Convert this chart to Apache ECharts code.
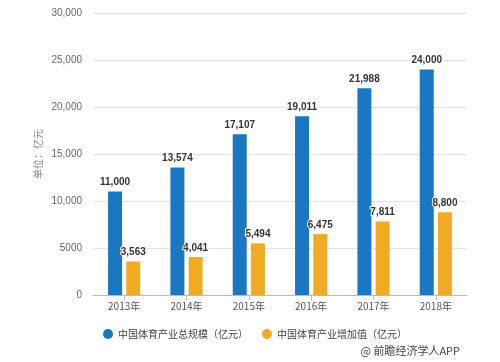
<!DOCTYPE html>
<html><head><meta charset="utf-8">
<script src="https://cdn.jsdelivr.net/npm/echarts@6/dist/echarts.min.js"></script>
<style>html,body{margin:0;padding:0;background:#fff}#c{width:500px;height:362px}</style>
</head><body><div id="c"></div>
<script>
const categories = ['2013年','2014年','2015年','2016年','2017年','2018年'];
const totalScale = [11000, 13574, 17107, 19011, 21988, 24000];
const addedValue = [3563, 4041, 5494, 6475, 7811, 8800];
const seriesNames = ['中国体育产业总规模（亿元）','中国体育产业增加值（亿元）'];
const yTicks = [0, 5000, 10000, 15000, 20000, 25000, 30000];

const fmt = v => v >= 10000 ? v.toLocaleString('en-US') : String(v);
const chart = echarts.init(document.getElementById('c'));
const labelStyle = {show: true, position: 'top', fontWeight: 'bold', fontSize: 10, color: '#333',
  fontFamily: 'Liberation Sans', distance: 4, formatter: p => p.value.toLocaleString('en-US'),
  textBorderColor: '#fff', textBorderWidth: 2};
chart.setOption({
  animation: false,
  grid: {left: 93, right: 33, top: 13, bottom: 67},
  legend: {top: 324, left: 98, itemWidth: 10, itemHeight: 10, itemGap: 14, icon: 'circle',
    textStyle: {fontSize: 10, color: '#444', fontFamily: 'Noto Sans CJK SC'}, data: seriesNames},
  xAxis: {type: 'category', data: categories,
    axisLine: {lineStyle: {color: '#bbb'}}, axisTick: {show: true, alignWithLabel: true, lineStyle: {color: '#bbb'}},
    axisLabel: {color: '#555', fontSize: 10, margin: 6, fontFamily: 'Noto Sans CJK SC'}},
  yAxis: {type: 'value', min: yTicks[0], max: yTicks[yTicks.length-1], interval: 5000,
    name: '单位：亿元', nameLocation: 'middle', nameGap: 50, nameRotate: 90, nameMoveOverlap: false,
    nameTextStyle: {color: '#888', fontSize: 10, fontFamily: 'Noto Sans CJK SC'},
    axisLine: {show: false}, axisTick: {show: false},
    axisLabel: {color: '#666', fontSize: 10, margin: 11, formatter: fmt, fontFamily: 'Liberation Sans'},
    splitLine: {lineStyle: {color: '#e3e3e3'}}},
  series: [
    {name: seriesNames[0], type: 'bar', data: totalScale, barWidth: 14, barGap: '30%',
     itemStyle: {color: '#1a78c2'}, label: labelStyle},
    {name: seriesNames[1], type: 'bar', data: addedValue, barWidth: 14,
     itemStyle: {color: '#f0ab22'}, label: labelStyle}
  ],
  graphic: [{type: 'text', right: 40, bottom: 6,
    style: {text: '@ 前瞻经济学人APP', fill: '#444', fontSize: 11, fontFamily: 'Noto Sans CJK SC'}}]
});
</script></body></html>
